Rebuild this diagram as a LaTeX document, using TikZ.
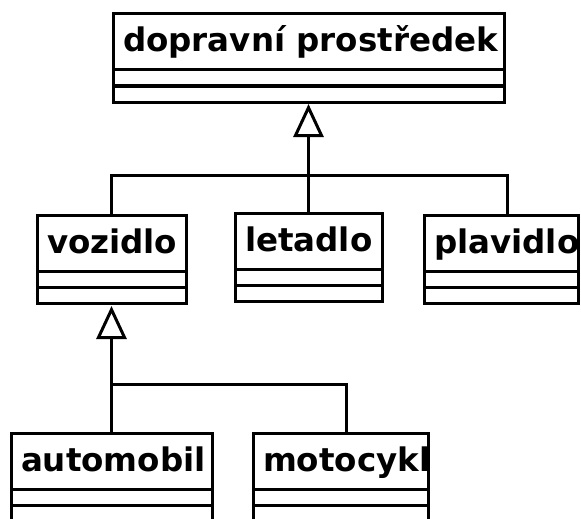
\documentclass[tikz,border=0pt]{standalone}
\usepackage{fontspec}
\setmainfont{DejaVu Sans}
\usetikzlibrary{arrows.meta}

% one UML class: header with the name, then two empty compartments
% #1 node name, #2/#3 top-left corner, #4 width, #5 class name
\newcommand\umlclass[5]{%
  \node[classhead, minimum width=#4pt, anchor=north west] (#1) at (#2,#3)
    {\makebox[\dimexpr#4pt-20pt\relax][l]{#5}};
  \node[compart, minimum width=#4pt, anchor=north] (#1-attr) at (#1.south) {};
  \node[compart, minimum width=#4pt, anchor=north] (#1-ops) at (#1-attr.south) {};
}

\begin{document}
\begin{tikzpicture}[x=1pt, y=-1pt,
  classhead/.style={draw, line width=3pt, fill=white, inner xsep=10pt, inner ysep=0pt,
    outer sep=0pt, minimum height=56pt, text height=25pt, text depth=5pt,
    font=\fontsize{32.5}{38}\selectfont\bfseries},
  compart/.style={draw, line width=3pt, fill=white, inner sep=0pt, outer sep=0pt,
    minimum height=16pt},
  link/.style={line width=3pt},
  gen/.style={line width=3pt, -{Triangle[fill=white, length=33pt, width=30pt]}}]
\useasboundingbox (0,0) rectangle (581,519);
\clip (0,0) rectangle (581,519);
\fill[white] (0,0) rectangle (581,519);

\umlclass{dp}{113}{14}{391}{dopravní prostředek}
\umlclass{vozidlo}{37}{215}{149}{vozidlo}
\umlclass{letadlo}{235}{213}{147}{letadlo}
\umlclass{plavidlo}{424}{215}{154}{plavidlo}
\umlclass{automobil}{11}{433}{201}{automobil}
\umlclass{motocykl}{253}{433}{175}{motocykl}

% generalization: vozidlo, letadlo, plavidlo -> dopravní prostředek
\coordinate (j1) at (dp-ops.south |- 0,175);
\draw[gen] (j1) -- ([yshift=-2pt]dp-ops.south);
\draw[link] (vozidlo.north) |- (j1);
\draw[link] (letadlo.north) -- (j1);
\draw[link] ([xshift=6pt]plavidlo.north) |- (j1);

% generalization: automobil, motocykl -> vozidlo
\coordinate (j2) at (vozidlo-ops.south |- 0,384);
\draw[gen] (j2) -- ([yshift=-3pt]vozidlo-ops.south);
\draw[link] (automobil.north) -- (j2);
\draw[link] ([xshift=5.5pt]motocykl.north) |- (j2);
\end{tikzpicture}
\end{document}
